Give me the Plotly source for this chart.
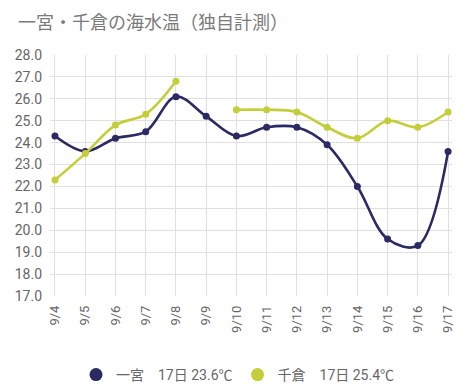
import plotly.graph_objects as go

dates = ["9/4", "9/5", "9/6", "9/7", "9/8", "9/9", "9/10", "9/11", "9/12", "9/13", "9/14", "9/15", "9/16", "9/17"]
ichinomiya = [24.3, 23.6, 24.2, 24.5, 26.1, 25.2, 24.3, 24.7, 24.7, 23.9, 22.0, 19.6, 19.3, 23.6]
chikura = [22.3, 23.5, 24.8, 25.3, 26.8, None, 25.5, 25.5, 25.4, 24.7, 24.2, 25.0, 24.7, 25.4]
names = ["一宮　17日 23.6℃", "千倉　17日 25.4℃"]
y_ticks = [17 + i for i in range(12)]

navy = "#2b2a62"
lime = "#c4ce3b"
FONT = "Roboto, 'Noto Sans CJK JP', sans-serif"

fig = go.Figure()
xs = list(range(len(dates)))
for vals, name, col in [(ichinomiya, names[0], navy), (chikura, names[1], lime)]:
    fig.add_trace(go.Scatter(
        x=xs, y=vals, name=name, mode="lines+markers", showlegend=False,
        line=dict(color=col, width=2.6, shape="spline", smoothing=1.0),
        marker=dict(color=col, size=7),
        connectgaps=False,
    ))
for name, col in [(names[0], navy), (names[1], lime)]:
    fig.add_trace(go.Scatter(
        x=[None], y=[None], name=name, mode="markers",
        marker=dict(color=col, size=13),
    ))

fig.update_layout(
    width=476, height=392,
    margin=dict(l=50, r=24, t=55, b=96),
    paper_bgcolor="white", plot_bgcolor="white",
    font=dict(family=FONT, color="#666666", size=12),
    title=dict(text="一宮・千倉の海水温（独自計測）", x=18 / 476, xref="container", xanchor="left",
               y=1 - 23 / 392, yanchor="middle", yref="container",
               font=dict(size=18, color="#7a7a7a", family=FONT)),
    showlegend=True,
    legend=dict(orientation="h", x=0.5, xref="container", xanchor="center",
                y=17 / 392, yref="container", yanchor="middle",
                font=dict(size=14, color="#666666", family=FONT),
                itemsizing="trace", itemwidth=30, tracegroupgap=0),
)
fig.update_xaxes(
    tickmode="array", tickvals=xs, ticktext=dates, tickangle=-90, automargin=False,
    range=[-0.165, 13.13], showgrid=True, gridcolor="#e0e0e0", gridwidth=1,
    zeroline=False, showline=False, ticks="", ticklabelstandoff=6,
    tickfont=dict(size=13, color="#666666"),
)
fig.update_yaxes(
    range=[17, 28], tickvals=y_ticks, tickformat=".1f", automargin=False,
    showgrid=True, gridcolor="#e0e0e0", gridwidth=1, zeroline=False, showline=False,
    ticks="", ticklabelstandoff=7, tickfont=dict(size=14, color="#666666"),
)

fig.write_html("out.html", config={"displayModeBar": False},
               post_script="document.body.style.margin='0px';")
